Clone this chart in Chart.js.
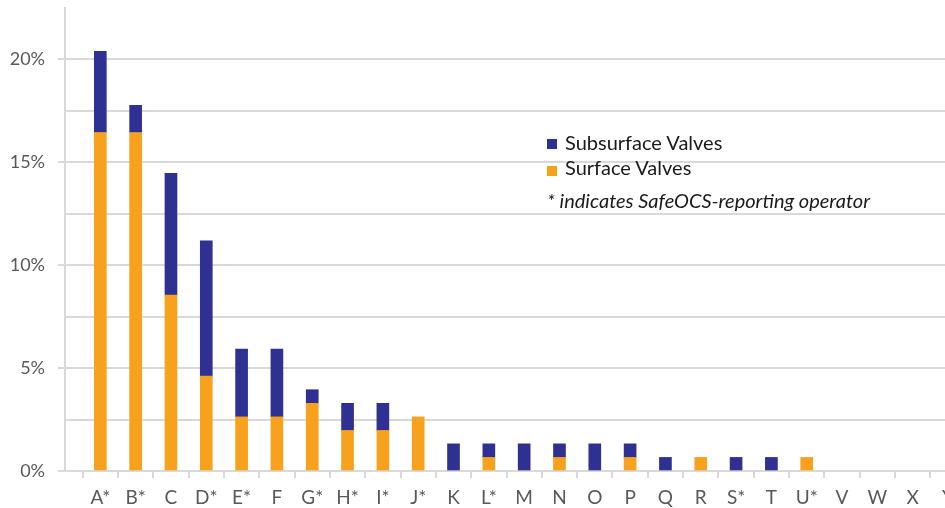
<!DOCTYPE html>
<html>
<head>
<meta charset="utf-8">
<script src="https://cdn.jsdelivr.net/npm/chart.js@4/dist/chart.umd.min.js"></script>
<style>
  html, body { margin: 0; padding: 0; overflow: hidden; background: #ffffff; }
  #wrap { position: relative; width: 950px; height: 508px; }
  #legend { position: absolute; left: 0; top: 0; font-family: Lato, "Open Sans", sans-serif; color: #1a1a1a; }
  .row { position: absolute; white-space: nowrap; font-size: 20px; line-height: 20px; }
  .sw { position: absolute; width: 10px; height: 10px; }
  .note { position: absolute; white-space: nowrap; font-size: 20px; line-height: 20px; font-style: italic; }
</style>
</head>
<body>
<div id="wrap">
  <canvas id="c"></canvas>
  <div id="legend"></div>
</div>
<script>
// ---- data (percent of total) ----
const categories = ['A*','B*','C','D*','E*','F','G*','H*','I*','J*','K','L*','M','N','O','P','Q','R','S*','T','U*','V','W','X','Y'];
const surfaceValves    = [16.45,16.45,8.55,4.61,2.63,2.63,3.29,1.97,1.97,2.63,0,0.66,0,0.66,0,0.66,0,0.66,0,0,0.66,0,0,0,0];
const subsurfaceValves = [3.95,1.32,5.92,6.58,3.29,3.29,0.66,1.32,1.32,0,1.32,0.66,1.32,0.66,1.32,0.66,0.66,0,0.66,0.66,0,0,0,0,0];
const yTickLabels = ['0%','5%','10%','15%','20%'];
const seriesNames = ['Subsurface Valves','Surface Valves'];
const noteText = '* indicates SafeOCS-reporting operator';

const BLUE = '#2E3192';
const ORANGE = '#F7A11C';
const GRID = '#d9d9d9';

// leading empty slot so the first category sits one step right of the axis;
// zero values are left undrawn (null) so no hairline slivers appear
const labels = [''].concat(categories);
const asBars = function (arr) { return [null].concat(arr.map(function (v) { return v === 0 ? null : v; })); };

new Chart(document.getElementById('c'), {
  type: 'bar',
  data: {
    labels: labels,
    datasets: [
      { label: seriesNames[1], data: asBars(surfaceValves), backgroundColor: ORANGE, barThickness: 12, borderWidth: 0 },
      { label: seriesNames[0], data: asBars(subsurfaceValves), backgroundColor: BLUE, barThickness: 12, borderWidth: 0 }
    ]
  },
  options: {
    responsive: true,
    maintainAspectRatio: false,
    animation: false,
    layout: { padding: { left: 0, right: 2, top: 8, bottom: 0 } },
    plugins: { legend: { display: false }, tooltip: { enabled: false } },
    scales: {
      x: {
        stacked: true,
        offset: false,
        grid: { drawOnChartArea: false, drawTicks: true, tickLength: 7, color: GRID, lineWidth: 2 },
        border: { display: false },
        ticks: { color: '#595959', font: { family: 'Lato', size: 19 }, padding: 8, maxRotation: 0, autoSkip: false },
        afterFit: function (s) { s.paddingLeft = 0; s.paddingRight = 0; s.height = 37; }
      },
      y: {
        stacked: true,
        min: 0,
        max: 22.5,
        grid: {
          color: function (ctx) { return (ctx.tick && ctx.tick.value >= 22.5) ? 'rgba(0,0,0,0)' : GRID; },
          tickColor: function (ctx) { return (ctx.tick && Math.abs(ctx.tick.value % 5) < 1e-6 && ctx.tick.value < 22.5) ? GRID : 'rgba(0,0,0,0)'; },
          lineWidth: 2,
          drawTicks: true,
          tickLength: 7
        },
        border: { display: true, color: GRID, width: 2 },
        ticks: {
          stepSize: 2.5,
          color: '#595959',
          font: { family: 'Lato', size: 18 },
          padding: 13,
          callback: function (v) {
            const i = Math.round(v / 5);
            return (Math.abs(v - i * 5) < 1e-6 && i < yTickLabels.length) ? yTickLabels[i] : '';
          }
        },
        afterFit: function (s) { s.width = 65; s.paddingTop = 0; s.paddingBottom = 0; }
      }
    }
  }
});

// legend overlay built from the series names and colours
const lg = document.getElementById('legend');
const rows = [
  { name: seriesNames[0], color: BLUE, top: 132, sq: 139 },
  { name: seriesNames[1], color: ORANGE, top: 157, sq: 166 }
];
rows.forEach(function (r) {
  const sw = document.createElement('div');
  sw.className = 'sw';
  sw.style.left = '547px';
  sw.style.top = r.sq + 'px';
  sw.style.background = r.color;
  lg.appendChild(sw);
  const t = document.createElement('div');
  t.className = 'row';
  t.style.left = '565px';
  t.style.top = r.top + 'px';
  t.textContent = r.name;
  lg.appendChild(t);
});
const n = document.createElement('div');
n.className = 'note';
n.style.left = '547px';
n.style.top = '190px';
n.textContent = noteText;
lg.appendChild(n);
</script>
</body>
</html>
